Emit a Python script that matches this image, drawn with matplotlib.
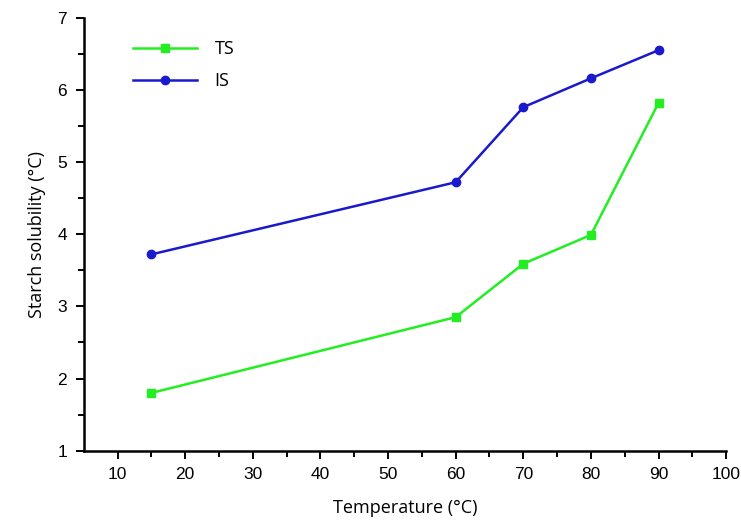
import matplotlib
matplotlib.use('Agg')
import matplotlib.pyplot as plt

temperature = [15, 60, 70, 80, 90]
ts_values = [1.80, 2.85, 3.59, 3.99, 5.82]
is_values = [3.72, 4.72, 5.76, 6.16, 6.55]

fig = plt.figure(figsize=(7.41, 5.21), dpi=100)
ax = fig.add_axes([0.113, 0.135, 0.867, 0.831])

ax.plot(temperature, ts_values, color='#22ee22', marker='s', markersize=6,
        linewidth=1.8, label='TS')
ax.plot(temperature, is_values, color='#1a1acc', marker='o', markersize=6,
        linewidth=1.8, label='IS')

ax.set_xlim(5, 100)
ax.set_ylim(1, 7)
ax.set_xticks(range(10, 101, 10))
ax.set_xticks(range(15, 100, 10), minor=True)
ax.set_yticks(range(1, 8))
ax.set_yticks([1.5, 2.5, 3.5, 4.5, 5.5, 6.5], minor=True)
for lbl in ax.get_xticklabels() + ax.get_yticklabels():
    lbl.set_fontfamily('Liberation Sans')
    lbl.set_fontsize(12.5)
ax.tick_params(which='major', direction='out', length=6, width=1.4, pad=6)
ax.tick_params(which='minor', direction='out', length=4, width=1.4)

for side in ['top', 'right']:
    ax.spines[side].set_visible(False)
for side in ['left', 'bottom']:
    ax.spines[side].set_linewidth(1.8)

ax.set_xlabel('Temperature (°C)', fontfamily='Open Sans', fontsize=13, labelpad=12)
ax.set_ylabel('Starch solubility (°C)', fontfamily='Open Sans', fontsize=13, labelpad=8)

leg = ax.legend(loc='upper left', bbox_to_anchor=(0.052, 0.985), frameon=False,
                handlelength=3.5, handletextpad=1.0, labelspacing=0.75,
                prop={'family': 'Open Sans', 'size': 13})

plt.savefig('out.png', format='png')
